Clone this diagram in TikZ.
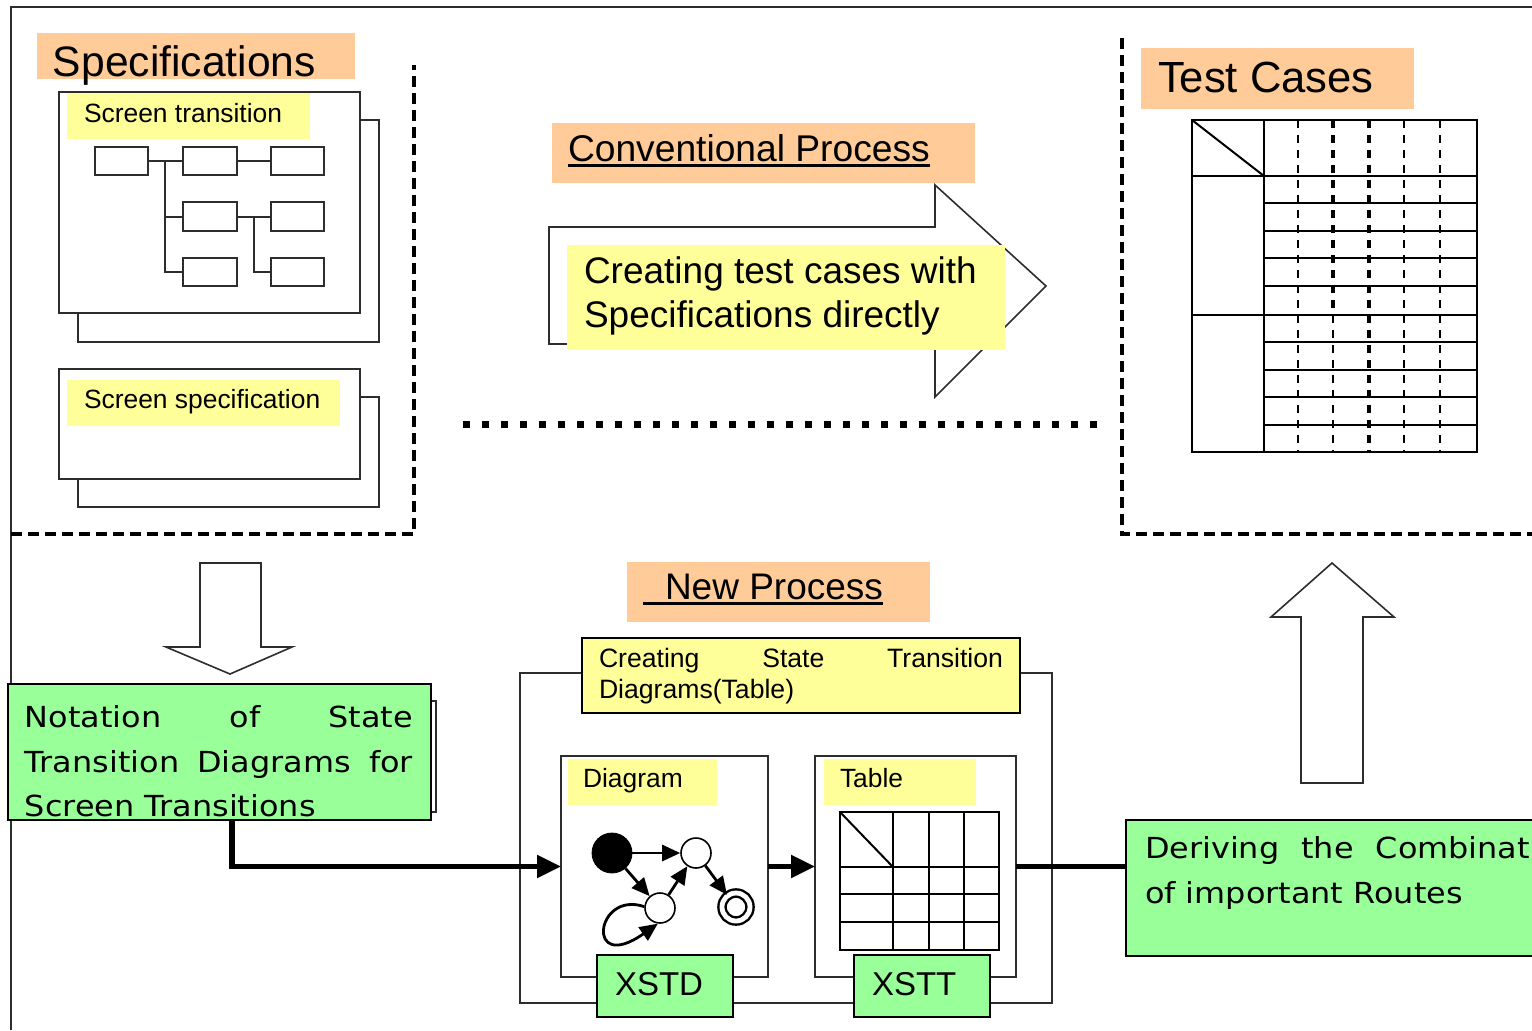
\documentclass[tikz,border=0pt]{standalone}
\usepackage{fontspec}
\setmainfont{Liberation Sans}
\newfontfamily\gothicfont[FakeStretch=1.1]{DejaVu Sans}
\usetikzlibrary{arrows.meta}

\definecolor{labelorange}{RGB}{255,204,153}
\definecolor{labelyellow}{RGB}{255,255,153}
\definecolor{notegreen}{RGB}{153,255,153}
\definecolor{inkgray}{RGB}{45,45,45}

\newcommand\fsz[1]{\fontsize{#1}{#1}\selectfont}
% rectangle node given by its corners (in pixel units)
\newcommand\pxrect[6]{\node[#1,anchor=north west,inner sep=0pt,outer sep=0pt,
  minimum width={(#4-#2)*0.5pt},minimum height={(#5-#3)*0.5pt}] (#6) at (#2,#3) {};}

\tikzset{
  txt/.style={anchor=base west,inner sep=0pt,outer sep=0pt},
  thinline/.style={draw=inkgray,line width=0.8pt},
  docbox/.style={draw=inkgray,fill=white,line width=0.9pt},
  orangelabel/.style={fill=labelorange},
  yellowlabel/.style={fill=labelyellow},
  smallbox/.style={draw=inkgray,fill=white,line width=1pt},
  smallconn/.style={draw=inkgray,line width=1pt},
  greenbox/.style={draw=black,fill=notegreen,line width=1.3pt},
  framedyellow/.style={draw=black,fill=labelyellow,line width=1.4pt},
  groupdash/.style={draw=black,line width=1.6pt,dash pattern=on 5.5pt off 3pt},
  coldash/.style={draw=black,line width=0.9pt,dash pattern=on 4pt off 3.5pt},
  blockarrow/.style={draw=inkgray,fill=white,line width=0.8pt,line join=miter},
  flow/.style={draw=black,line width=2.6pt,-{Triangle[length=12pt,width=11pt]}},
  flowline/.style={draw=black,line width=2.6pt},
  sarrow/.style={draw=black,line width=1.4pt,-{Triangle[length=9pt,width=8pt]}},
  gothic/.style={txt,font=\gothicfont\fsz{14.5pt}},
}

\begin{document}
\begin{tikzpicture}[x=0.5pt,y=-0.5pt]
\useasboundingbox (0,0) rectangle (1532,1030);
\clip (0,0) rectangle (1532,1030);
\fill[white] (0,0) rectangle (1532,1030);

% page frame
\draw[inkgray,line width=1pt] (11,1030) -- (11,7) -- (1532,7);

% ---------------- Specifications group ----------------
\draw[groupdash] (11,534) -- (414,534) -- (414,65);
\pxrect{orangelabel}{37}{33}{355}{79}{speclabel}
\node[txt,font=\fsz{21.3pt}] (spectext) at (53,76) {Specifications};

% screen transition document (stacked sheets)
\pxrect{docbox}{78}{120}{379}{342}{stback}
\pxrect{docbox}{59}{92}{360}{313}{stfront}
\pxrect{yellowlabel}{67}{93}{310}{139}{stlabel}
\node[txt,font=\fsz{13.2pt}] (sttext) at (84,122) {Screen transition};

\pxrect{smallbox}{95}{147}{148}{175}{sa}
\pxrect{smallbox}{183}{147}{237}{175}{sb}
\pxrect{smallbox}{271}{147}{324}{175}{sc}
\pxrect{smallbox}{183}{202}{237}{231}{sd}
\pxrect{smallbox}{271}{202}{324}{231}{se}
\pxrect{smallbox}{183}{258}{237}{286}{sf}
\pxrect{smallbox}{271}{258}{324}{286}{sg}
\coordinate (ja) at (165,161);
\coordinate (jb) at (254,216.5);
\draw[smallconn] (sa.east) -- (sb.west);
\draw[smallconn] (sb.east) -- (sc.west);
\draw[smallconn] (ja) |- (sd.west);
\draw[smallconn] (ja) |- (sf.west);
\draw[smallconn] (sd.east) -- (se.west);
\draw[smallconn] (jb) |- (sg.west);

% screen specification document
\pxrect{docbox}{78}{397}{379}{507}{ssback}
\pxrect{docbox}{59}{369}{360}{479}{ssfront}
\pxrect{yellowlabel}{67}{380}{340}{426}{sslabel}
\node[txt,font=\fsz{13.2pt}] (sstext) at (84,408) {Screen specification};

% ---------------- Conventional process ----------------
\draw[blockarrow] (549,227) -- (935,227) -- (935,185) -- (1046,286)
  -- (935,397) -- (935,344) -- (549,344) -- cycle;
\pxrect{orangelabel}{552}{123}{975}{183}{convlabel}
\node[txt,font=\fsz{18.6pt}] (convtext) at (568,161) {Conventional Process};
\draw[black,line width=1.1pt] ([yshift=-2.2pt]convtext.base west) -- ([yshift=-2.2pt]convtext.base east);
\pxrect{yellowlabel}{567}{245}{1005}{350}{directlabel}
\node[txt,font=\fsz{18.5pt}] (directa) at (584,283) {Creating test cases with};
\node[txt,font=\fsz{18.5pt}] (directb) at (584,327) {Specifications directly};

% separator between the two processes
\draw[black,line width=3.5pt,dash pattern=on 3.5pt off 6pt] (463,424) -- (1100,424);

% ---------------- Test cases group ----------------
\draw[groupdash] (1122,38) -- (1122,534) -- (1532,534);
\pxrect{orangelabel}{1141}{48}{1414}{109}{testlabel}
\node[txt,font=\fsz{21.8pt}] (testtext) at (1158,92) {Test Cases};

\pxrect{draw=black,line width=1pt}{1192}{120}{1477}{452}{tctable}
\begin{scope}[black,line width=1pt]
  \draw (1264,120) -- (1264,452);
  \draw (1192,120) -- (1264,176);
  \draw (1192,176) -- (1477,176);
  \draw (1192,315) -- (1477,315);
  \foreach \r in {203,231,258,286,342,370,397,425}
    \draw (1264,\r) -- (1477,\r);
\end{scope}
\foreach \c in {1298,1404,1440}
  \draw[coldash] (\c,120) -- (\c,452);
\draw[coldash,line width=2pt] (1333,120) -- (1333,315);
\draw[coldash] (1333,315) -- (1333,452);
\draw[coldash,line width=2pt] (1369,120) -- (1369,452);

% ---------------- New process ----------------
\draw[blockarrow] (200,563) -- (261,563) -- (261,647) -- (292,647)
  -- (230,674) -- (166,647) -- (200,647) -- cycle;

\draw[thinline] (431,701) -- (436,701) -- (436,812) -- (431,812);
\pxrect{greenbox}{8}{684}{431}{820}{notation}
\node[gothic] (nota) at (25,727) {\hbox to 194pt{Notation\hfill of\hfill State}};
\node[gothic] (notb) at (25,772) {\hbox to 194pt{Transition\hfill Diagrams\hfill for}};
\node[gothic] (notc) at (25,816) {Screen Transitions};

\pxrect{orangelabel}{627}{562}{930}{622}{newlabel}
\node[txt,font=\fsz{18.5pt}] (newtext) at (643,599) {\hspace{11pt}New Process};
\draw[black,line width=1.1pt] ([yshift=-2.2pt]newtext.base west) -- ([yshift=-2.2pt]newtext.base east);

\pxrect{thinline}{520}{673}{1052}{1003}{newframe}
\pxrect{framedyellow}{582}{638}{1020}{713}{createlabel}
\node[txt,font=\fsz{13.3pt}] (createa) at (599,667) {\hbox to 202pt{Creating\hfill State\hfill Transition}};
\node[txt,font=\fsz{13.3pt}] (createb) at (599,698) {Diagrams(Table)};

% diagram panel
\pxrect{docbox}{561}{756}{768}{977}{diagpanel}
\pxrect{yellowlabel}{568}{759}{717}{805}{diaglabel}
\node[txt,font=\fsz{13.2pt}] (diagtext) at (583,787) {Diagram};
\node[circle,fill=black,draw=black,minimum size=20pt,inner sep=0pt] (s0) at (612,853) {};
\node[circle,draw=black,line width=0.8pt,fill=white,minimum size=15pt,inner sep=0pt] (s1) at (696,853) {};
\node[circle,draw=black,line width=0.8pt,fill=white,minimum size=15pt,inner sep=0pt] (s2) at (660,908) {};
\node[circle,draw=black,line width=1.2pt,double,double distance=2.4pt,minimum size=14pt,inner sep=0pt] (sf) at (736,907) {};
\draw[sarrow] (s0) -- (s1);
\draw[sarrow] (s0) -- (s2);
\draw[sarrow] (s2) -- (s1);
\draw[sarrow] (s1) -- (sf);
\draw[sarrow] (s2.175) .. controls (595,890) and (585,975) .. (s2.262);

% table panel
\pxrect{docbox}{815}{756}{1016}{977}{tabpanel}
\pxrect{yellowlabel}{824}{759}{976}{805}{tablabel}
\node[txt,font=\fsz{13.2pt}] (tabtext) at (840,787) {Table};
\pxrect{draw=black,line width=1pt}{840}{812}{999}{950}{minitable}
\begin{scope}[black,line width=1pt]
  \foreach \c in {893,929,964} \draw (\c,812) -- (\c,950);
  \foreach \r in {867,894,922} \draw (840,\r) -- (999,\r);
  \draw (840,812) -- (893,867);
\end{scope}

\pxrect{greenbox}{597}{955}{733}{1017}{xstd}
\node[txt,font=\fsz{16.5pt}] (xstdtext) at (615,995) {XSTD};
\pxrect{greenbox}{854}{955}{990}{1017}{xstt}
\node[txt,font=\fsz{16.5pt}] (xstttext) at (872,995) {XSTT};

% flow of the new process
\draw[flow] ([xshift=6.25pt]notation.south) |- (diagpanel.west);
\draw[flow] (diagpanel.east) -- (tabpanel.west);

\pxrect{greenbox}{1126}{820}{1550}{956}{derive}
\draw[flowline] (tabpanel.east) -- (tabpanel.east -| derive.west);
\node[gothic] (derivea) at (1145,858) {Deriving\hspace{11pt}the\hspace{11pt}Combination};
\node[gothic] (deriveb) at (1145,903) {of important Routes};

\draw[blockarrow] (1301,783) -- (1363,783) -- (1363,617) -- (1394,617)
  -- (1332,563) -- (1271,617) -- (1301,617) -- cycle;
\end{tikzpicture}
\end{document}
